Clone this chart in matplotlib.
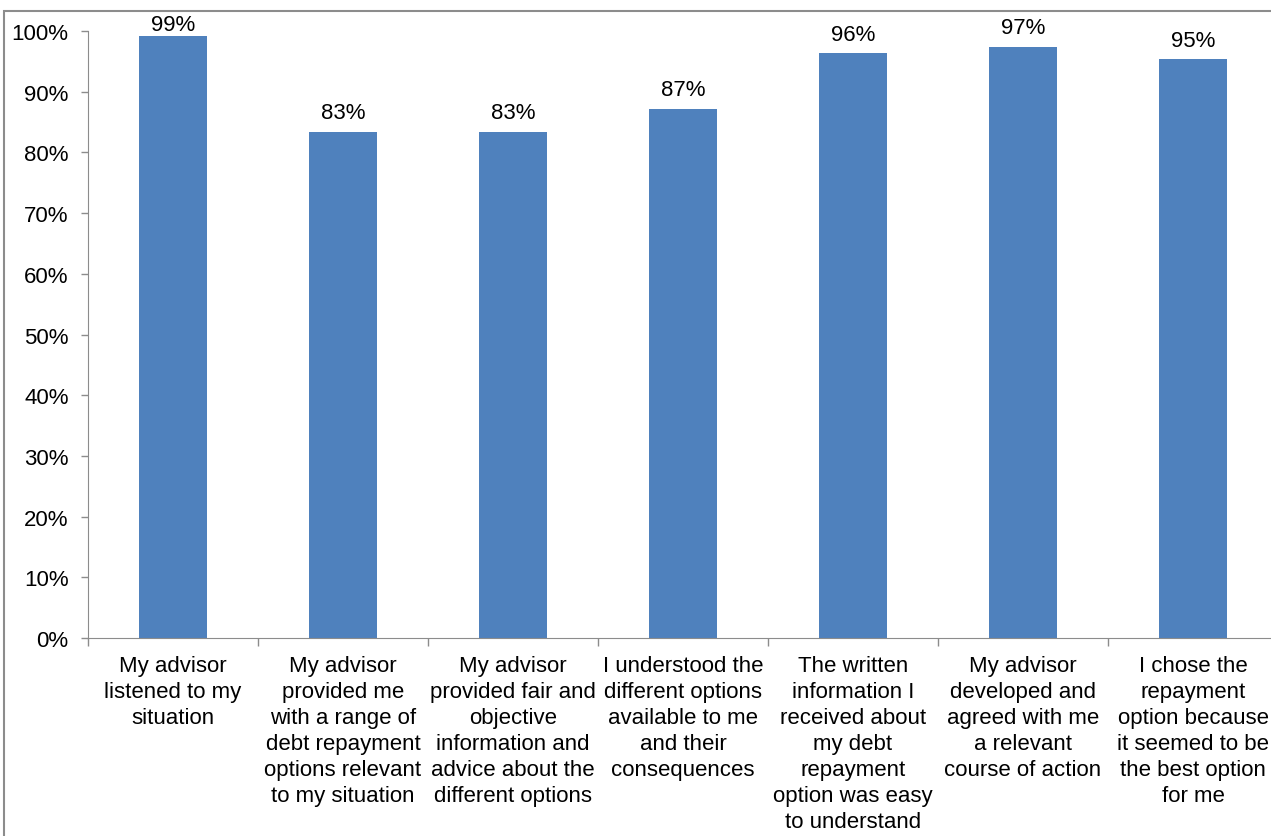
import matplotlib.pyplot as plt
from matplotlib.patches import Rectangle
from matplotlib.ticker import PercentFormatter

plt.rcParams['font.family'] = ['Liberation Sans', 'DejaVu Sans']

statements = [
    "My advisor\nlistened to my\nsituation",
    "My advisor\nprovided me\nwith a range of\ndebt repayment\noptions relevant\nto my situation",
    "My advisor\nprovided fair and\nobjective\ninformation and\nadvice about the\ndifferent options",
    "I understood the\ndifferent options\navailable to me\nand their\nconsequences",
    "The written\ninformation I\nreceived about\nmy debt\nrepayment\noption was easy\nto understand",
    "My advisor\ndeveloped and\nagreed with me\na relevant\ncourse of action",
    "I chose the\nrepayment\noption because\nit seemed to be\nthe best option\nfor me",
]
agree_pct = [99.2, 83.4, 83.4, 87.2, 96.4, 97.4, 95.4]

W, H = 1271, 837
fig = plt.figure(figsize=(W / 100, H / 100), dpi=100)

# chart frame, 20 px above the plot area
frame_top = 12
fig.patches.append(Rectangle((4 / W, -0.1), 1.2, 1.1 - frame_top / H,
                             transform=fig.transFigure, fill=False,
                             edgecolor='#8c8c8c', linewidth=1.5))

ax_h = 607
ax = fig.add_axes([88 / W, 198 / H, 1190 / W, ax_h / H])
x = list(range(len(statements)))
bars = ax.bar(x, agree_pct, width=0.4, color='#4F81BD')

# value labels; pushed down when they would run into the frame
label_pts = 17.4
for b, v in zip(bars, agree_pct):
    headroom = ((100 - v) / 100 * ax_h + (32 - frame_top)) * 0.72
    off = min(6, headroom - label_pts)
    ax.annotate(f"{v:.0f}%", (b.get_x() + b.get_width() / 2, v),
                xytext=(0, off), textcoords='offset points',
                ha='center', va='bottom', fontsize=16)

ax.set_xlim(-0.5, len(statements) - 0.5)
ax.set_ylim(0, 100)
ax.set_yticks(range(0, 101, 10))
ax.yaxis.set_major_formatter(PercentFormatter(decimals=0))

ax.set_xticks(x)
ax.set_xticklabels(statements, fontsize=16, linespacing=1.32, va='top')
ax.set_xticks([i - 0.5 for i in range(len(statements) + 1)], minor=True)
ax.tick_params(axis='x', which='major', length=0, pad=12)
ax.tick_params(axis='x', which='minor', length=6, color='#8c8c8c', width=1)
ax.tick_params(axis='y', length=5, color='#8c8c8c', width=1,
               labelsize=16, pad=9)

for side in ['top', 'right']:
    ax.spines[side].set_visible(False)
for side in ['left', 'bottom']:
    ax.spines[side].set_color('#8c8c8c')

fig.savefig('out.png', dpi=100)
